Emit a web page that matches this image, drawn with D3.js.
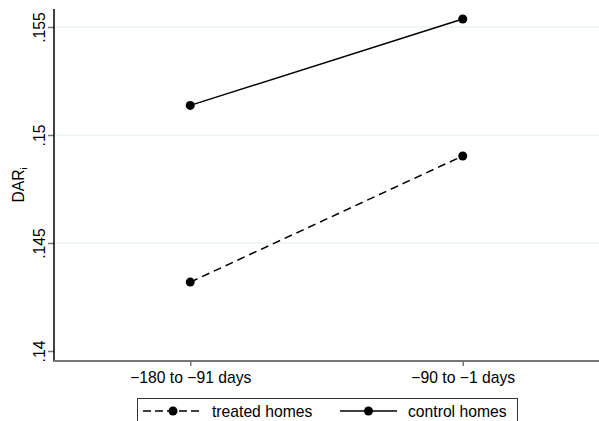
<!DOCTYPE html>
<html><head><meta charset="utf-8">
<script src="https://cdn.jsdelivr.net/npm/d3@7"></script>
<style>body{margin:0;background:#fff}svg{display:block}text{font-family:"Liberation Sans",Arial,sans-serif}</style>
</head><body><svg id="c" width="599" height="421"></svg>
<script>
const categories = ["\u2212180 to \u221291 days", "\u221290 to \u22121 days"];
const treated = [0.14319, 0.14903];
const control = [0.15137, 0.15537];
const yTicks = [0.14, 0.145, 0.15, 0.155];
const yTickLabels = [".14", ".145", ".15", ".155"];
const seriesNames = ["treated homes", "control homes"];

const FS = 15.7;
const svg = d3.select("#c");
const L = 54, R = 599, T = 9, B = 361;
const x = d3.scalePoint().domain(categories).range([L, R]).padding(0.5);
const y = d3.scaleLinear().domain([0.14, 0.155]).range([351, 27]);

// gridlines
svg.append("g").selectAll("line").data(yTicks.filter(d => d > 0.14)).join("line")
  .attr("x1", L).attr("x2", R).attr("y1", d => y(d)).attr("y2", d => y(d))
  .attr("stroke", "#eaf1f2").attr("stroke-width", 1.5);

// y axis
const ya = svg.append("g").attr("transform", `translate(${L},0)`)
  .call(d3.axisLeft(y).tickValues(yTicks).tickFormat((d, i) => yTickLabels[i]).tickSize(6).tickSizeOuter(0));
ya.select(".domain").remove();
ya.selectAll(".tick line").attr("stroke", "#777").attr("stroke-width", 1.5);
ya.selectAll(".tick text").attr("transform", "rotate(-90)")
  .attr("x", 0).attr("y", -9).attr("dy", 0).attr("text-anchor", "middle")
  .attr("font-size", FS).attr("fill", "#000");
svg.append("line").attr("x1", L).attr("x2", L).attr("y1", T).attr("y2", B + 0.5)
  .attr("stroke", "#000").attr("stroke-width", 1.5);

// x axis
const xa = svg.append("g").attr("transform", `translate(0,${B})`)
  .call(d3.axisBottom(x).tickSize(5).tickSizeOuter(0));
xa.select(".domain").remove();
xa.selectAll(".tick line").attr("stroke", "#777").attr("stroke-width", 1.5);
xa.selectAll(".tick text").attr("y", 22).attr("dy", 0).attr("font-size", FS).attr("fill", "#000");
svg.append("line").attr("x1", L).attr("x2", R).attr("y1", B).attr("y2", B)
  .attr("stroke", "#777").attr("stroke-width", 2);

// y title
const yt = svg.append("text").attr("transform", `translate(24,${(T + B) / 2}) rotate(-90)`)
  .attr("text-anchor", "middle").attr("font-size", FS).attr("fill", "#000");
yt.append("tspan").text("DAR");
yt.append("tspan").text("i").attr("font-size", 9).attr("dy", 3);

// series
const line = d3.line().x((d, i) => x(categories[i])).y(d => y(d));
const series = [{name: seriesNames[0], vals: treated, dash: "8,5"}, {name: seriesNames[1], vals: control, dash: null}];
series.forEach(s => {
  svg.append("path").attr("d", line(s.vals)).attr("fill", "none").attr("stroke", "#000")
    .attr("stroke-width", 1.5).attr("stroke-dasharray", s.dash);
  svg.append("g").selectAll("circle").data(s.vals).join("circle")
    .attr("cx", (d, i) => x(categories[i])).attr("cy", d => y(d)).attr("r", 4.5).attr("fill", "#000");
});

// legend
svg.append("rect").attr("x", 137.5).attr("y", 398.5).attr("width", 380).attr("height", 30)
  .attr("fill", "#fff").attr("stroke", "#333").attr("stroke-width", 1);
const leg = [{x0: 143, x1: 203, tx: 212}, {x0: 340, x1: 397, tx: 408}];
series.forEach((s, i) => {
  const g = svg.append("g");
  const ly = 411;
  g.append("line").attr("x1", leg[i].x0).attr("x2", leg[i].x1).attr("y1", ly).attr("y2", ly)
    .attr("stroke", "#000").attr("stroke-width", 1.5).attr("stroke-dasharray", s.dash ? "8,4" : null);
  g.append("circle").attr("cx", (leg[i].x0 + leg[i].x1) / 2).attr("cy", ly).attr("r", 4.5).attr("fill", "#000");
  g.append("text").attr("x", leg[i].tx).attr("y", 417).attr("font-size", FS).attr("fill", "#000").text(s.name);
});
</script></body></html>
